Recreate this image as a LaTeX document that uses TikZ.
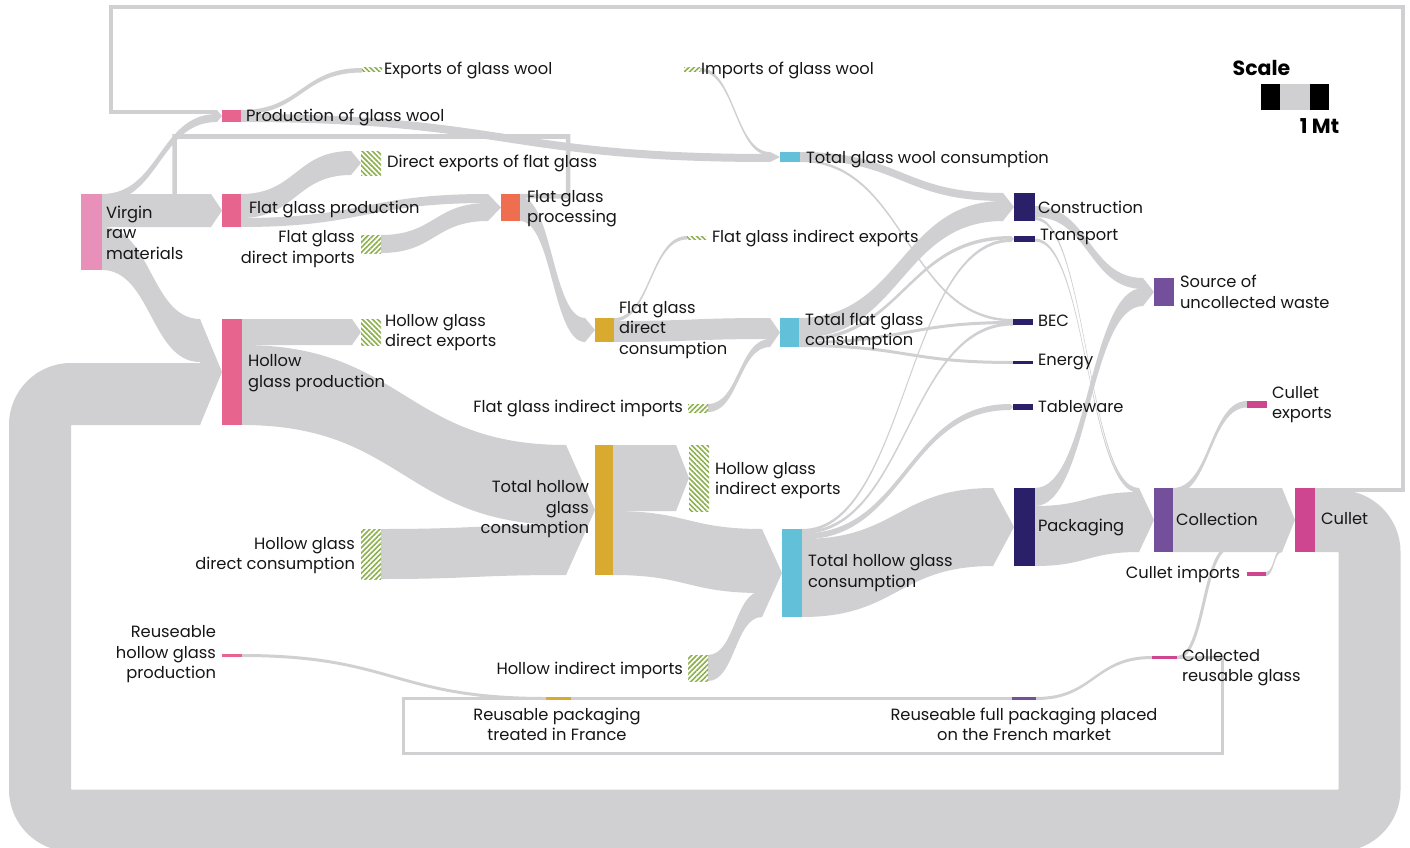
\documentclass[tikz,border=0pt]{standalone}
\usepackage{fontspec}
\setmainfont{Poppins}
\usetikzlibrary{calc,patterns.meta}

\definecolor{flowgray}{HTML}{D0D0D2}
\definecolor{txt}{HTML}{161616}
\definecolor{cVirgin}{HTML}{E890BA}
\definecolor{cProd}{HTML}{E7648F}
\definecolor{cOrange}{HTML}{EE6E4F}
\definecolor{cGold}{HTML}{D8AA2F}
\definecolor{cCyan}{HTML}{62C1D9}
\definecolor{cNavy}{HTML}{2A206A}
\definecolor{cPurple}{HTML}{744F9B}
\definecolor{cMagenta}{HTML}{CF4690}
\definecolor{hatchgreen}{HTML}{8CB04B}

% a Sankey band between two bars:
% #1 source, #2 offset below source top, #3 target, #4 offset below target top,
% #5 thickness, #6 gap left for the target's arrow tip
\newcommand\flowband[6]{%
  \path ($(#1.north east)+(0,#2)$) coordinate (bA)
        ($(#1.north east)+(0,#2+#5)$) coordinate (bC)
        ($(#3.north west)+(-#6,#4)$) coordinate (bB)
        ($(#3.north west)+(-#6,#4+#5)$) coordinate (bD);
  \path ($(bA)!.5!(bB)$) coordinate (bM);
  \fill[flowfill] (bA) .. controls (bM|-bA) and (bM|-bB) .. (bB) -- (bD)
        .. controls (bM|-bD) and (bM|-bC) .. (bC) -- cycle;}
% arrow tip in front of a bar
\newcommand\chevron[2]{%
  \fill[flowfill] ($(#1.north west)+(-#2,0)$) -- (#1.west) -- ($(#1.south west)+(-#2,0)$) -- cycle;}

\tikzset{
  flowfill/.style={fill=flowgray},
  loopline/.style={draw=flowgray, line width=4pt},
  reuseline/.style={draw=flowgray, line width=3pt},
  barbox/.style={rectangle, draw=none, inner sep=0pt, outer sep=0pt, anchor=north west},
  hatchE/.style={barbox},
  hatchI/.style={barbox},
  lbl/.style={font=\fontsize{16.3}{20.5}\selectfont, text=txt, inner sep=0pt, outer sep=0pt},
  big/.style={font=\fontsize{20.5}{24}\selectfont\bfseries, text=black, inner sep=0pt}
}

\begin{document}
\begin{tikzpicture}[x=1pt,y=-1pt]
\useasboundingbox (0,0) rectangle (1410,848);
\fill[white] (0,0) rectangle (1410,848);

% ---------- bars ----------
\path
 node[barbox, minimum width=21pt, minimum height=76pt] (vrm) at (81,194) {}
 node[barbox, minimum width=19pt, minimum height=12pt] (pgw) at (222,110) {}
 node[hatchE, minimum width=20pt, minimum height=4pt] (egw) at (362,68) {}
 node[hatchI, minimum width=16pt, minimum height=3.5pt] (igw) at (684,68) {}
 node[barbox, minimum width=20pt, minimum height=10pt] (tgwc) at (780,152) {}
 node[barbox, minimum width=19pt, minimum height=33pt] (fgp) at (222,194) {}
 node[hatchE, minimum width=20pt, minimum height=24pt] (defg) at (361,151) {}
 node[hatchI, minimum width=20pt, minimum height=18pt] (fgdi) at (361,235) {}
 node[barbox, minimum width=19pt, minimum height=27pt] (proc) at (501,194) {}
 node[hatchE, minimum width=19pt, minimum height=3.5pt] (fgie) at (687,236) {}
 node[barbox, minimum width=20pt, minimum height=106pt] (hgp) at (222,319) {}
 node[hatchE, minimum width=20pt, minimum height=26pt] (hgde) at (361,319) {}
 node[barbox, minimum width=19pt, minimum height=24pt] (fgdc) at (595,318) {}
 node[barbox, minimum width=19pt, minimum height=29pt] (tfgc) at (780,318) {}
 node[hatchI, minimum width=20pt, minimum height=8pt] (fgii) at (688,404) {}
 node[barbox, minimum width=18pt, minimum height=130pt] (thgc) at (595,445) {}
 node[hatchE, minimum width=20pt, minimum height=66pt] (hgie) at (689,445) {}
 node[hatchI, minimum width=20pt, minimum height=50pt] (hgdc) at (361,529) {}
 node[barbox, minimum width=20pt, minimum height=88pt] (tohgc) at (782,529) {}
 node[hatchI, minimum width=20pt, minimum height=26pt] (hii) at (688,655) {}
 node[barbox, minimum width=21pt, minimum height=28pt] (con) at (1014,193) {}
 node[barbox, minimum width=21pt, minimum height=6pt] (tra) at (1014,236) {}
 node[barbox, minimum width=20pt, minimum height=6pt] (bec) at (1013,319) {}
 node[barbox, minimum width=20pt, minimum height=3pt] (ene) at (1013,361) {}
 node[barbox, minimum width=20pt, minimum height=6pt] (tab) at (1013,404) {}
 node[barbox, minimum width=21pt, minimum height=78pt] (pac) at (1014,488) {}
 node[barbox, minimum width=20pt, minimum height=28pt] (suw) at (1154,278) {}
 node[barbox, minimum width=19pt, minimum height=64pt] (col) at (1154,488) {}
 node[barbox, minimum width=20pt, minimum height=64pt] (cul) at (1295,488) {}
 node[barbox, minimum width=20pt, minimum height=7pt] (cex) at (1247,401) {}
 node[barbox, minimum width=19pt, minimum height=4pt] (cim) at (1247,572) {}
 node[barbox, minimum width=25pt, minimum height=3pt] (crg) at (1152,656) {}
 node[barbox, minimum width=20pt, minimum height=3pt] (rhg) at (222,654) {}
 node[barbox, minimum width=25pt, minimum height=3pt] (rpt) at (546,697) {}
 node[barbox, minimum width=24pt, minimum height=3pt] (rfp) at (1012,697) {};

% ---------- loops ----------
% cullet back to hollow glass production
\draw[draw=flowgray, line width=62pt, rounded corners=31pt]
  ($(cul.north east)+(0,33)$) -- (1369.5,521) -- (1369.5,820.5) -- (40,820.5) -- (40,394)
  -- ($(hgp.north west)+(-22,75)$);
% cullet back to glass wool production
\draw[loopline] ($(cul.north east)+(0,2)$) -- (1402.5,490) -- (1402.5,7.5)
  -- (111,7.5) -- (111,112) -- ($(pgw.north west)+(-5,2)$);
% processing offcuts back to flat glass production
\coordinate (fgloop) at (174.5,197);
\draw[loopline, line width=4.5pt] ($(proc.north east)+(0,2)$) -- (568,196.5)
  -- (568,136.5) -- (174.5,136.5) -- (fgloop);
% reuse circuit
\draw[reuseline] (crg.east) -- (1222,657.5) -- (1222,753.5) -- (403,753.5)
  -- (403,698.5) -- (rpt.west);
\draw[reuseline] (rpt.east) -- (rfp.west);
\draw[draw=flowgray, line width=3pt] (crg.east) .. controls (1203,657.5) and (1203,562)
  .. ($(cul.south west)+(-70,-3)$);

% ---------- bands ----------
\flowband{vrm}{0}{pgw}{4}{8}{5}
\flowband{vrm}{0}{fgp}{0}{33}{11}
\flowband{vrm}{33}{hgp}{0}{43}{22}
\flowband{pgw}{0}{egw}{0}{4.5}{0}
\flowband{pgw}{4}{tgwc}{2}{8}{10}
\flowband{igw}{0}{tgwc}{0}{3.5}{10}
\flowband{fgp}{0}{defg}{0}{24}{10}
\flowband{fgp}{24}{proc}{0}{9}{13}
\flowband{fgdi}{0}{proc}{9}{18}{13}
\flowband{proc}{3}{fgdc}{0}{24}{10}
\flowband{fgdc}{0}{fgie}{0}{3.5}{0}
\flowband{fgdc}{3}{tfgc}{0}{21}{10}
\flowband{fgii}{0}{tfgc}{21}{8}{10}
\flowband{tgwc}{0}{con}{0}{8}{11}
\flowband{tgwc}{7.5}{bec}{0}{2.5}{0}
\flowband{tfgc}{0}{con}{8}{20}{11}
\flowband{tfgc}{20}{tra}{0}{3.5}{3}
\flowband{tfgc}{23}{bec}{2}{3}{0}
\flowband{tfgc}{26}{ene}{0}{3}{0}
\flowband{hgp}{0}{hgde}{0}{26}{9}
\flowband{hgp}{26}{thgc}{0}{80}{29}
\flowband{hgdc}{0}{thgc}{80}{50}{29}
\flowband{thgc}{0}{hgie}{0}{66}{13}
\flowband{thgc}{66}{tohgc}{0}{64}{20}
\flowband{hii}{0}{tohgc}{62}{26}{20}
\flowband{tohgc}{0}{tra}{3}{3}{3}
\flowband{tohgc}{2}{bec}{3.5}{3}{0}
\flowband{tohgc}{4.5}{tab}{0}{6}{3}
\flowband{tohgc}{10}{pac}{0}{78}{21}
\flowband{con}{13}{suw}{0}{11}{11}
\flowband{pac}{0}{suw}{10}{18}{11}
\flowband{con}{24}{col}{0}{3}{15}
\flowband{tra}{2.5}{col}{2}{3}{15}
\flowband{pac}{18}{col}{4}{60}{15}
\flowband{col}{0}{cex}{0}{6.5}{0}
\flowband{col}{0}{cul}{0}{64}{13}
\flowband{cim}{0}{cul}{60}{4}{13}
\flowband{rhg}{0}{rpt}{0}{3}{0}
\flowband{rfp}{0}{crg}{0}{3}{0}

% ---------- arrow tips ----------
\chevron{pgw}{5}  \chevron{fgp}{11} \chevron{hgp}{22} \chevron{tgwc}{10}
\chevron{defg}{10} \chevron{proc}{13} \chevron{fgdc}{10} \chevron{tfgc}{10}
\chevron{con}{11} \chevron{tra}{3} \chevron{tab}{3} \chevron{hgde}{9}
\chevron{thgc}{29} \chevron{hgie}{13} \chevron{tohgc}{20} \chevron{pac}{21}
\chevron{suw}{11} \chevron{col}{15} \chevron{cul}{13}

% ---------- bars on top ----------
\foreach \n/\c in {vrm/cVirgin,pgw/cProd,tgwc/cCyan,fgp/cProd,proc/cOrange,hgp/cProd,
  fgdc/cGold,tfgc/cCyan,thgc/cGold,tohgc/cCyan,con/cNavy,tra/cNavy,bec/cNavy,ene/cNavy,
  tab/cNavy,pac/cNavy,suw/cPurple,col/cPurple,cul/cMagenta,cex/cMagenta,cim/cMagenta,
  crg/cMagenta,rhg/cProd,rpt/cGold,rfp/cPurple}
  \fill[\c] (\n.north west) rectangle (\n.south east);
% exports: stripes falling to the right; imports: rising to the right
\foreach \n in {egw,defg,fgie,hgde,hgie}
  \fill[white, postaction={pattern={Lines[angle=-45,distance=3.6pt,line width=1.6pt]}, pattern color=hatchgreen}] (\n.north west) rectangle (\n.south east);
\foreach \n in {igw,fgdi,fgii,hgdc,hii}
  \fill[white, postaction={pattern={Lines[angle=45,distance=3.6pt,line width=1.6pt]}, pattern color=hatchgreen}] (\n.north west) rectangle (\n.south east);

% ---------- labels ----------
\node[lbl, anchor=west, align=left] (t-vrm) at (106,232.5) {Virgin\\raw\\materials};
\node[lbl, anchor=west] (t-pgw) at (246,117) {Production of glass wool};
\node[lbl, anchor=west] (t-egw) at (384,70.5) {Exports of glass wool};
\node[lbl, anchor=west] (t-igw) at (701,70.5) {Imports of glass wool};
\node[lbl, anchor=west] (t-tgwc) at (806,159) {Total glass wool consumption};
\node[lbl, anchor=west] (t-fgp) at (249,209) {Flat glass production};
\node[lbl, anchor=west] (t-defg) at (387,163) {Direct exports of flat glass};
\node[lbl, anchor=east, align=right] (t-fgdi) at (355,249) {Flat glass\\direct imports};
\node[lbl, anchor=west, align=left] (t-proc) at (527,208.5) {Flat glass\\processing};
\node[lbl, anchor=west] (t-fgie) at (712,238) {Flat glass indirect exports};
\node[lbl, anchor=west, align=left] (t-hgp) at (248,373) {Hollow\\glass production};
\node[lbl, anchor=west, align=left] (t-hgde) at (385,332.5) {Hollow glass\\direct exports};
\node[lbl, anchor=west, align=left] (t-fgdc) at (619,330) {Flat glass\\direct\\consumption};
\node[lbl, anchor=west, align=left] (t-tfgc) at (805,331.5) {Total flat glass\\consumption};
\node[lbl, anchor=east] (t-fgii) at (683,408) {Flat glass indirect imports};
\node[lbl, anchor=east, align=right] (t-thgc) at (589,509.5) {Total hollow\\glass\\consumption};
\node[lbl, anchor=west, align=left] (t-hgie) at (715,480.5) {Hollow glass\\indirect exports};
\node[lbl, anchor=east, align=right] (t-hgdc) at (355,555.5) {Hollow glass\\direct consumption};
\node[lbl, anchor=west, align=left] (t-tohgc) at (808,573) {Total hollow glass\\consumption};
\node[lbl, anchor=east] (t-hii) at (683,670) {Hollow indirect imports};
\node[lbl, anchor=west] (t-con) at (1038,207) {Construction};
\node[lbl, anchor=west] (t-tra) at (1040,237) {Transport};
\node[lbl, anchor=west] (t-bec) at (1038,321) {BEC};
\node[lbl, anchor=west] (t-ene) at (1038,362) {Energy};
\node[lbl, anchor=west] (t-tab) at (1038,407) {Tableware};
\node[lbl, anchor=west] (t-pac) at (1038,527) {Packaging};
\node[lbl, anchor=west, align=left] (t-suw) at (1180,292) {Source of\\uncollected waste};
\node[lbl, anchor=west] (t-col) at (1176,519) {Collection};
\node[lbl, anchor=west] (t-cul) at (1321,519) {Cullet};
\node[lbl, anchor=west, align=left] (t-cex) at (1272,404.5) {Cullet\\exports};
\node[lbl, anchor=east] (t-cim) at (1240,574) {Cullet imports};
\node[lbl, anchor=west, align=left] (t-crg) at (1182,667.5) {Collected\\reusable glass};
\node[lbl, anchor=east, align=right] (t-rhg) at (216,654.5) {Reuseable\\hollow glass\\production};
\node[lbl, align=center] (t-rpt) at (557,724.5) {Reusable packaging\\treated in France};
\node[lbl, align=center] (t-rfp) at (1024,724.5) {Reuseable full packaging placed\\on the French market};

% ---------- scale ----------
\node[big] (scaletitle) at (1261.5,68) {Scale};
\fill[black] (1261,84) rectangle (1280,110);
\fill[flowgray] (1280,84) rectangle (1310,110);
\fill[black] (1310,84) rectangle (1329,110);
\node[big] (scaleval) at (1319.5,126) {1 Mt};
\end{tikzpicture}
\end{document}
